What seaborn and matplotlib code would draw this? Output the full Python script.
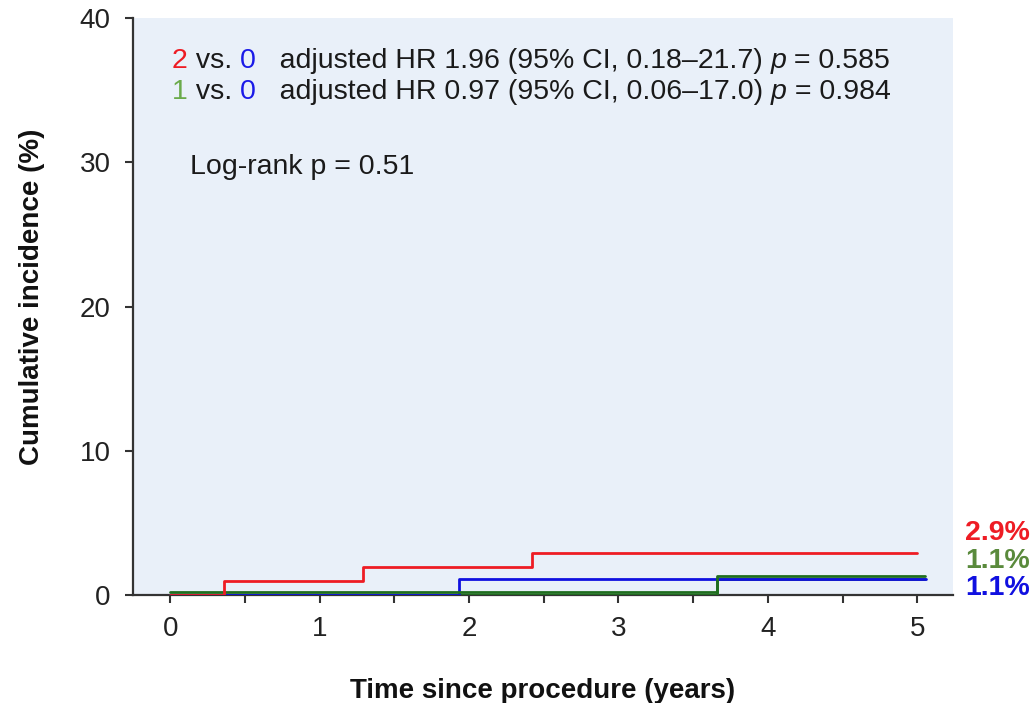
import numpy as np
import pandas as pd
import matplotlib
matplotlib.use("Agg")
import matplotlib.pyplot as plt
import matplotlib.transforms as mtransforms
import seaborn as sns

# Cumulative incidence step curves (time in years, incidence in %)
group2_time = [0.0, 0.36, 1.29, 2.42, 5.0]
group2_inc = [0.0, 0.97, 1.94, 2.9, 2.9]
group1_time = [0.0, 3.66, 5.05]
group1_inc = [0.0, 1.1, 1.1]
group0_time = [0.0, 1.93, 5.06]
group0_inc = [0.0, 1.1, 1.1]

group_names = ["2", "1", "0"]
final_labels = ["2.9%", "1.1%", "1.1%"]
y_ticks = [0, 10, 20, 30, 40]
x_ticks = [0, 1, 2, 3, 4, 5]

hr_lines = [
    ("2", "0", "adjusted HR 1.96 (95% CI, 0.18\u201321.7)", "0.585"),
    ("1", "0", "adjusted HR 0.97 (95% CI, 0.06\u201317.0)", "0.984"),
]
logrank_text = "Log-rank p = 0.51"

curve_colors = {"2": "#ee1c24", "1": "#1f6e1f", "0": "#1010e0"}
label_colors = {"2": "#ee1c24", "1": "#5a8a3c", "0": "#1010e0"}
digit_colors = {"2": "#ee1c24", "1": "#6aaa4a", "0": "#1a1ae8"}

df = pd.concat([
    pd.DataFrame({"time": group2_time, "inc": group2_inc, "group": "2"}),
    pd.DataFrame({"time": group1_time, "inc": group1_inc, "group": "1"}),
    pd.DataFrame({"time": group0_time, "inc": group0_inc, "group": "0"}),
], ignore_index=True)

sns.set_theme(style="ticks")
plt.rcParams["font.family"] = ["Liberation Sans", "DejaVu Sans"]

fig = plt.figure(figsize=(10.33, 7.03), dpi=100)
ax = fig.add_axes([0.1288, 0.1536, 0.7938, 0.8208])
ax.set_facecolor("#e9f0f9")


def draw_curve(g, zorder, dy=0.0):
    sub = df[df["group"] == g]
    tr = ax.transData
    if dy:
        tr = mtransforms.offset_copy(ax.transData, fig=fig, x=0, y=dy, units="dots")
    sns.lineplot(data=sub, x="time", y="inc", ax=ax, color=curve_colors[g],
                 drawstyle="steps-post", linewidth=2.0, estimator=None,
                 sort=False, legend=False, transform=tr, zorder=zorder)


# green underneath, blue over it, a lifted copy of green so both stay visible
draw_curve("1", 2.8)
draw_curve("0", 3.0)
draw_curve("1", 3.1, dy=3)
draw_curve("2", 3.2)

ax.set_xlim(-0.25, 5.24)
ax.set_ylim(0, 40)
ax.set_xticks(x_ticks)
ax.set_xticks([0.5, 1.5, 2.5, 3.5, 4.5], minor=True)
ax.set_yticks(y_ticks)
ax.set_xticklabels([str(v) for v in x_ticks])
ax.set_yticklabels([str(v) for v in y_ticks])
ax.tick_params(axis="both", which="major", labelsize=20, length=6, width=1.5,
               color="#333333", labelcolor="#222222")
ax.tick_params(axis="x", which="minor", length=6, width=1.5, color="#333333")
ax.tick_params(axis="x", pad=9)
ax.tick_params(axis="y", pad=10)

for side in ["top", "right"]:
    ax.spines[side].set_visible(False)
for side in ["left", "bottom"]:
    ax.spines[side].set_linewidth(1.6)
    ax.spines[side].set_color("#333333")

ax.set_xlabel("Time since procedure (years)", fontsize=20, fontweight="bold",
              labelpad=26, color="#111111")
ax.set_ylabel("Cumulative incidence (%)", fontsize=20, fontweight="bold",
              color="#111111")
ax.yaxis.set_label_coords(-0.107, 0.516)

# hazard ratio annotations, each line built from coloured pieces
fs = 20.5
y_rows = [37.05, 34.85]
for (a, b, hr, p), yr in zip(hr_lines, y_rows):
    t = ax.text(0.01, yr, a, fontsize=fs, color=digit_colors[a], va="center", ha="left")
    t = ax.annotate(" vs. ", xycoords=t, xy=(1, 0), va="bottom", fontsize=fs, color="#1a1a1a")
    t = ax.annotate(b, xycoords=t, xy=(1, 0), va="bottom", fontsize=fs, color=digit_colors[b])
    t = ax.annotate("   " + hr + " ", xycoords=t, xy=(1, 0), va="bottom", fontsize=fs, color="#1a1a1a")
    t = ax.annotate("p", xycoords=t, xy=(1, 0), va="bottom", fontsize=fs, color="#1a1a1a", style="italic")
    ax.annotate(" = " + p, xycoords=t, xy=(1, 0), va="bottom", fontsize=fs, color="#1a1a1a")

ax.text(0.13, 29.7, logrank_text, fontsize=fs, color="#1a1a1a", va="center", ha="left")

# end-of-follow-up percentages outside the plotting area
label_y = [4.3, 2.35, 0.5]
for g, txt, yv in zip(group_names, final_labels, label_y):
    ax.text(1.0146, yv, txt, transform=ax.get_yaxis_transform(), fontsize=20.5,
            fontweight="bold", color=label_colors[g], ha="left", va="center",
            clip_on=False)

fig.savefig("out.png", dpi=100)
